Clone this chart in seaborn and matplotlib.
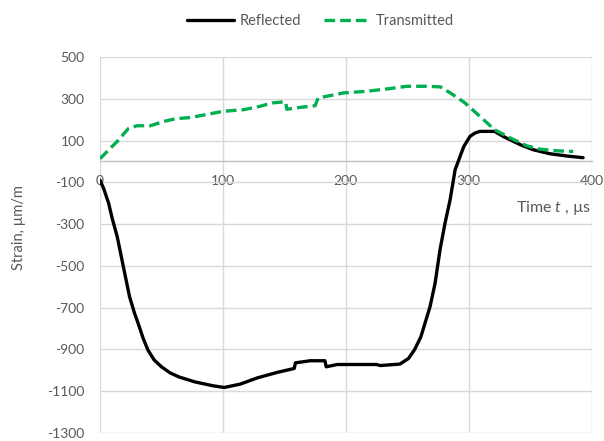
"""
Reflected / transmitted strain pulses vs time
"""

import numpy as np
import pandas as pd
import matplotlib
matplotlib.use('Agg')
import matplotlib.pyplot as plt
from matplotlib.ticker import MultipleLocator
import seaborn as sns

sns.set_style('white')
plt.rcParams['font.family'] = ['Lato', 'DejaVu Sans']
plt.rcParams['mathtext.fontset'] = 'custom'
plt.rcParams['mathtext.it'] = 'Lato:italic'
plt.rcParams['mathtext.rm'] = 'Lato'
plt.rcParams['axes.unicode_minus'] = False

# 反射波 (Reflected), 读图估计
t_reflected = [0, 3, 7, 10, 14, 19, 24, 28, 31, 35, 39, 44, 50, 57, 64, 77, 92,
               101, 114, 128, 144, 158, 159, 171, 183, 184, 193, 225, 228, 244,
               251, 256, 261, 268.5, 272.6, 276.6, 280.7, 284.8, 288.9, 292.9,
               296, 301, 305, 309, 321, 328, 335, 342, 352.5, 366, 380, 393]
s_reflected = [-90, -130, -200, -275, -360, -504, -647, -725, -775, -845, -903,
               -950, -983, -1012, -1031, -1055, -1074, -1082, -1066, -1036,
               -1010, -991, -964, -954, -954, -983, -972, -972, -977, -970, -943,
               -900, -840, -695, -583, -423, -295, -184, -40, 24, 72, 120, 136,
               144, 144, 120, 100, 80, 56, 37, 26, 18]

# 透射波 (Transmitted)
t_transmitted = [0, 7, 14, 23, 30, 41, 52, 62, 73, 84, 100, 117, 130, 140, 149,
                 151, 152, 163, 175, 177.5, 187, 198, 217, 236, 250, 266, 277,
                 285, 297, 309, 321, 334, 347, 358, 372, 385]
s_transmitted = [13, 55, 96, 157, 171, 171, 192, 205, 210, 222, 240, 248, 264, 280,
                 285, 285, 250, 259, 267, 304, 315, 328, 336, 349, 360, 360, 357,
                 328, 280, 216, 152, 112, 75, 59, 51, 48]

y_ticks = [-1300, -1100, -900, -700, -500, -300, -100, 100, 300, 500]
x_ticks = [0, 100, 200, 300, 400]

text_color = '#595959'
grid_color = '#D9D9D9'
green = '#00B050'

fig = plt.figure(figsize=(6.04, 4.41), dpi=100)
ax = fig.add_axes([0.1656, 0.0181, 0.814, 0.8526])

refl = pd.DataFrame({'t': t_reflected, 'strain': s_reflected})
trans = pd.DataFrame({'t': t_transmitted, 'strain': s_transmitted})

sns.lineplot(data=refl, x='t', y='strain', ax=ax, color='black', linewidth=2.4,
             label='Reflected', zorder=3)
sns.lineplot(data=trans, x='t', y='strain', ax=ax, color=green, linewidth=2.4,
             label='Transmitted', zorder=3)
ax.lines[1].set_dashes((3.2, 1.5))
ax.lines[1].set_dash_capstyle('butt')

ax.set_xlim(0, 400)
ax.set_ylim(-1300, 500)
ax.set_yticks(y_ticks)
ax.set_xticks(x_ticks)
ax.xaxis.set_minor_locator(MultipleLocator(20))
ax.grid(True, which='major', color=grid_color, linewidth=1)
ax.set_axisbelow(True)

for side in ['top', 'right', 'left']:
    ax.spines[side].set_visible(False)
ax.spines['bottom'].set_position(('data', 0))
ax.spines['bottom'].set_color('#BFBFBF')
ax.spines['bottom'].set_linewidth(1)

ax.tick_params(axis='y', length=0, pad=11, labelsize=10, labelcolor=text_color)
ax.tick_params(axis='x', which='major', length=0, pad=10, labelsize=10,
               labelcolor=text_color)
ax.tick_params(axis='x', which='minor', direction='in', length=4, width=1,
               color='#BFBFBF')

ax.set_xlabel('')
ax.set_ylabel('Strain, µm/m', fontsize=10.5, color=text_color)
ax.yaxis.set_label_coords(-0.1505, 0.5465)
ax.text(400, -222, 'Time $t$ , µs', ha='right', va='center', fontsize=11.5,
        color=text_color)

leg = ax.legend(loc='center', bbox_to_anchor=(0.531, 0.953),
                bbox_transform=fig.transFigure, ncol=2, frameon=False,
                fontsize=10.5, handlelength=3.2, handletextpad=0.35,
                columnspacing=1.6)
for txt in leg.get_texts():
    txt.set_color(text_color)

fig.savefig('out.png', dpi=100)
